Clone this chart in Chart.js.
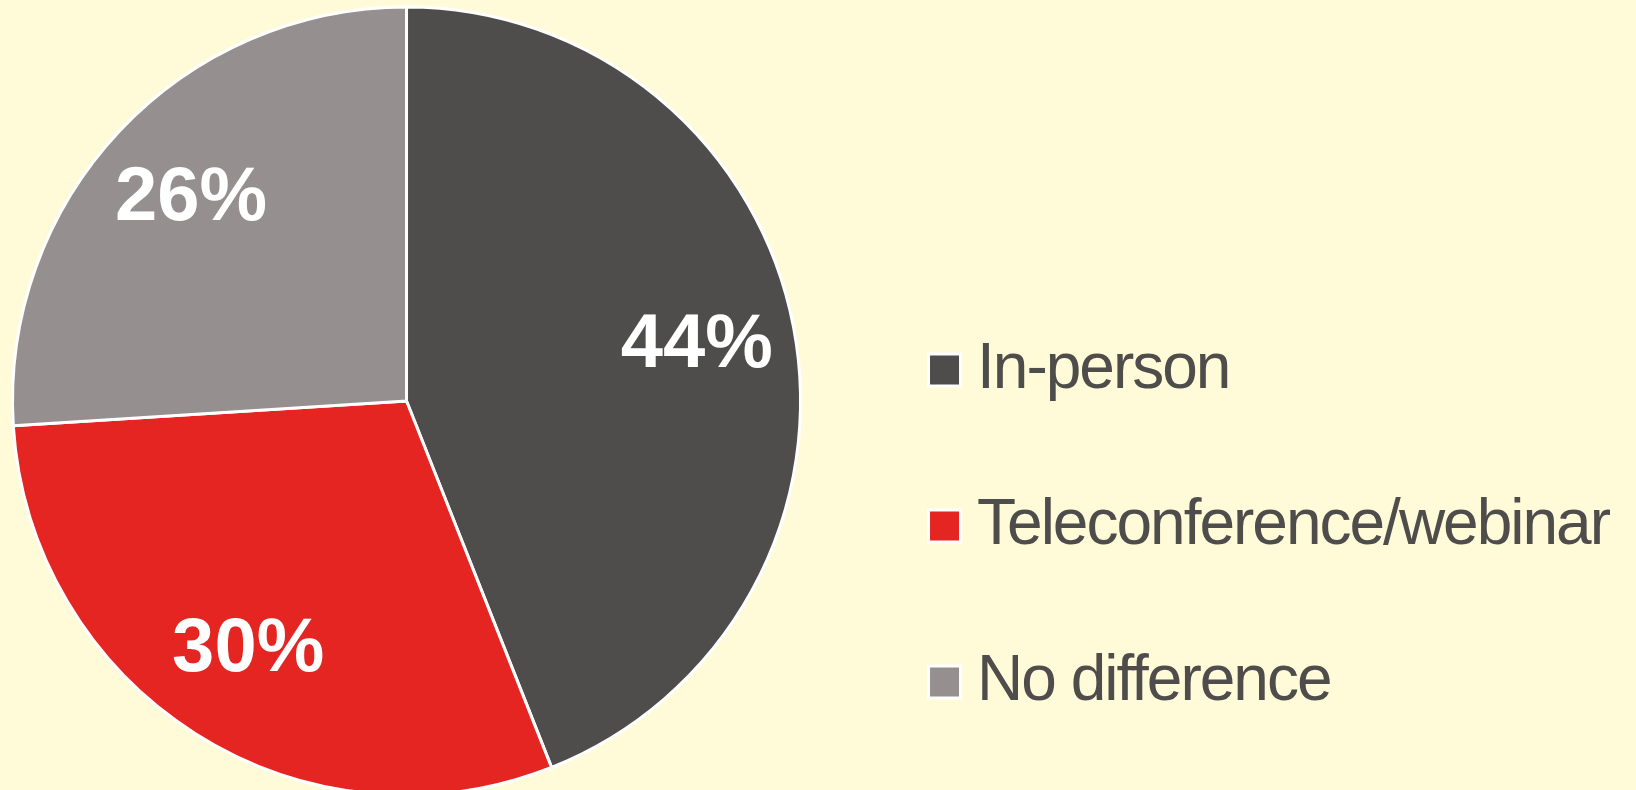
<!DOCTYPE html>
<html>
<head>
<meta charset="utf-8">
<script src="https://cdn.jsdelivr.net/npm/chart.js@4.4.1/dist/chart.umd.min.js"></script>
<style>
    html, body { margin: 0; padding: 0; overflow: hidden; background: #fffbd9; width: 1636px; height: 790px; }
    #chart { position: absolute; left: -39px; top: -5px; }
</style>
</head>
<body>
<canvas id="chart" width="1658" height="811"></canvas>
<script>
var categories = ['In-person', 'Teleconference/webinar', 'No difference'];
var shares = [44, 30, 26];
var sliceColors = ['#4f4d4b', '#e52521', '#958f8f'];

var fontFamily = '"Liberation Sans", Arial, sans-serif';

// white percentage inside each slice, 3/4 of the way out on its middle angle
var sliceLabels = {
    id: 'sliceLabels',
    afterDatasetsDraw: function (chart) {
        var ctx = chart.ctx;
        var meta = chart.getDatasetMeta(0);
        ctx.save();
        ctx.letterSpacing = '0px';
        ctx.font = 'bold 76px ' + fontFamily;
        ctx.fillStyle = '#ffffff';
        ctx.textAlign = 'center';
        ctx.textBaseline = 'middle';
        meta.data.forEach(function (arc, i) {
            var p = arc.getProps(['x', 'y', 'startAngle', 'endAngle', 'outerRadius']);
            var mid = (p.startAngle + p.endAngle) / 2;
            var r = p.outerRadius * 0.75;
            ctx.fillText(shares[i] + '%', p.x + Math.cos(mid) * r, p.y + Math.sin(mid) * r);
        });
        ctx.restore();
    }
};

// legend text is set tight
var tightText = {
    id: 'tightText',
    beforeUpdate: function (chart) { chart.ctx.letterSpacing = '-2px'; },
    beforeDraw: function (chart) { chart.ctx.letterSpacing = '-2px'; }
};

var ctx = document.getElementById('chart').getContext('2d');
var pie = new Chart(ctx, {
    type: 'pie',
    data: {
        labels: categories,
        datasets: [{
            data: shares,
            backgroundColor: sliceColors,
            borderColor: '#ffffff',
            borderWidth: 3,
            radius: 394
        }]
    },
    options: {
        responsive: false,
        devicePixelRatio: 1,
        animation: false,
        events: [],
        layout: { padding: { top: 1 } },
        plugins: {
            tooltip: { enabled: false },
            legend: {
                position: 'right',
                align: 'end',
                maxWidth: 768,
                labels: {
                    usePointStyle: true,
                    pointStyle: 'rect',
                    boxWidth: 1,
                    boxHeight: 32,
                    padding: 92,
                    color: '#4f4d4b',
                    font: { family: fontFamily, size: 64 }
                }
            }
        }
    },
    plugins: [tightText, sliceLabels]
});
</script>
</body>
</html>
